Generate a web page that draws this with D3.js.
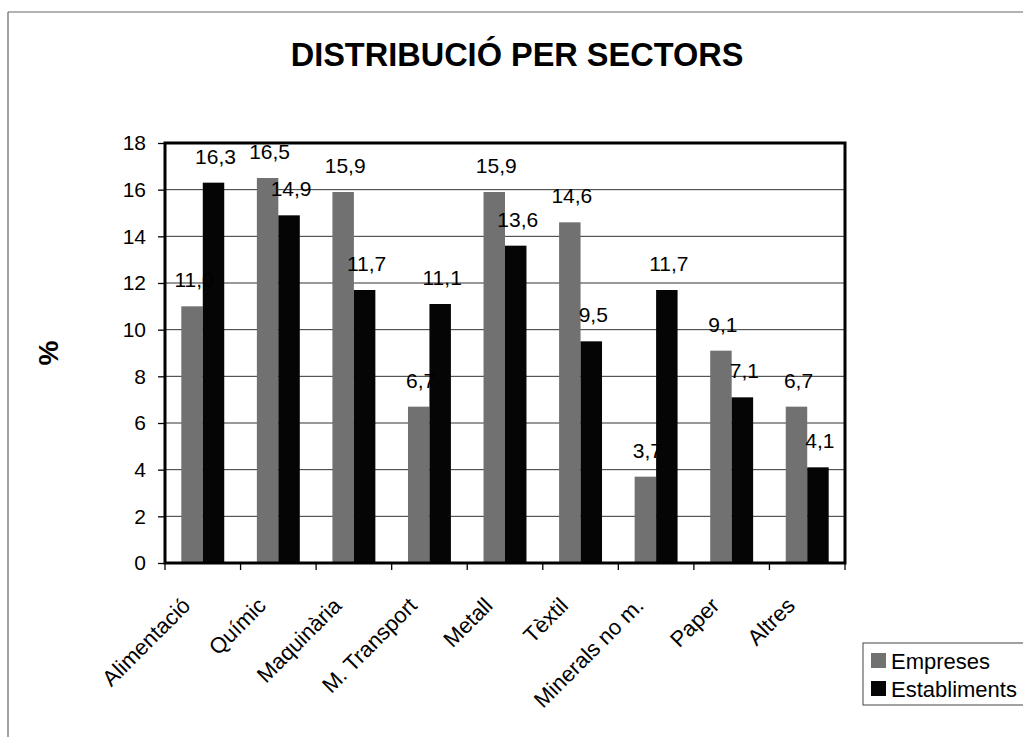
<!DOCTYPE html>
<html>
<head>
<meta charset="utf-8">
<script src="https://cdn.jsdelivr.net/npm/d3@7"></script>
<style>
  body { margin: 0; background: #fff; }
  svg { display: block; font-family: "Liberation Sans", Arial, sans-serif; }
</style>
</head>
<body>
<div id="chart"></div>
<script>
//Dades
const sectors = ['Alimentació', 'Químic', 'Maquinària', 'M. Transport', 'Metall', 'Tèxtil', 'Minerals no m.', 'Paper', 'Altres'];
const empreses = [11.0, 16.5, 15.9, 6.7, 15.9, 14.6, 3.7, 9.1, 6.7];
const establiments = [16.3, 14.9, 11.7, 11.1, 13.6, 9.5, 11.7, 7.1, 4.1];
const series = ['Empreses', 'Establiments'];
const yTicks = [0, 2, 4, 6, 8, 10, 12, 14, 16, 18];

//Colors
const COLOR_EMP = '#717171',
COLOR_EST = '#050505';

let W = 1023, H = 737;
let margin = {top: 143, right: 178, bottom: 174, left: 165},
    width = W - margin.left - margin.right,
    height = H - margin.top - margin.bottom;

let root = d3.select('#chart').append('svg')
    .attr('width', W)
    .attr('height', H);

//Marc exterior (només esquerra i dalt visibles)
root.append('line').attr('x1', 8).attr('y1', 12).attr('x2', 1023).attr('y2', 12)
    .attr('stroke', '#666').attr('stroke-width', 1.2);
root.append('line').attr('x1', 8).attr('y1', 12).attr('x2', 8).attr('y2', 737)
    .attr('stroke', '#666').attr('stroke-width', 1.2);

//Títol
root.append('text')
    .attr('x', 517).attr('y', 66)
    .attr('text-anchor', 'middle')
    .style('font-weight', 'bold')
    .style('font-size', '32.5px')
    .text('DISTRIBUCIÓ PER SECTORS');

//Etiqueta eix Y
root.append('text')
    .attr('transform', 'translate(58,353) rotate(-90)')
    .attr('text-anchor', 'middle')
    .style('font-weight', 'bold')
    .style('font-size', '28px')
    .text('%');

let svg = root.append('g')
    .attr('transform', 'translate(' + margin.left + ',' + margin.top + ')');

let x = d3.scaleBand()
    .domain(sectors)
    .range([0, width])
    .padding(0);

let xInner = d3.scaleBand()
    .domain(series)
    .range([0, x.bandwidth()])
    .paddingInner(0)
    .paddingOuter(0.76);

let y = d3.scaleLinear()
    .domain([0, 18])
    .range([height, 0]);

//Línies de quadrícula
svg.append('g')
    .selectAll('line')
    .data(yTicks.filter(function(d) { return d > 0 && d < 18; }))
    .enter()
    .append('line')
    .attr('x1', 0).attr('x2', width)
    .attr('y1', function(d) { return y(d); })
    .attr('y2', function(d) { return y(d); })
    .attr('stroke', '#333')
    .attr('stroke-width', 1);

//Eix Y
let yAxis = function(g) {
    g.call(d3.axisLeft(y).tickValues(yTicks).tickSize(7).tickPadding(12));
    g.call(function(g) { g.select('.domain').remove(); });
    g.selectAll('.tick text').style('font-size', '21px').attr('fill', '#000');
    g.selectAll('.tick line').attr('stroke', '#000').attr('stroke-width', 1.3);
};
svg.append('g').call(yAxis);

//Eix X
let xTickPos = sectors.map(function(d) { return x(d); }).concat([width]);
svg.append('g')
    .selectAll('line')
    .data(xTickPos)
    .enter()
    .append('line')
    .attr('x1', function(d) { return d; })
    .attr('x2', function(d) { return d; })
    .attr('y1', height)
    .attr('y2', height + 7)
    .attr('stroke', '#000')
    .attr('stroke-width', 1.3);

svg.append('g')
    .selectAll('text')
    .data(sectors)
    .enter()
    .append('text')
    .attr('transform', function(d) {
        return 'translate(' + (x(d) + x.bandwidth() / 2 - 11) + ',' + (height + 44) + ') rotate(-45)';
    })
    .attr('text-anchor', 'end')
    .style('font-size', '22px')
    .text(function(d) { return d; });

//Barres
let vals = {Empreses: empreses, Establiments: establiments};
let colors = {Empreses: COLOR_EMP, Establiments: COLOR_EST};

series.forEach(function(s) {
    svg.append('g')
        .selectAll('rect')
        .data(sectors)
        .enter()
        .append('rect')
        .attr('x', function(d) { return x(d) + xInner(s); })
        .attr('y', function(d, i) { return y(vals[s][i]); })
        .attr('width', xInner.bandwidth())
        .attr('height', function(d, i) { return height - y(vals[s][i]); })
        .attr('fill', colors[s]);
});

//Etiquetes de valor
series.forEach(function(s) {
    svg.append('g')
        .selectAll('text')
        .data(sectors)
        .enter()
        .append('text')
        .attr('x', function(d) { return x(d) + xInner(s) + xInner.bandwidth() / 2 + 2; })
        .attr('y', function(d, i) { return y(vals[s][i]) - 19; })
        .attr('text-anchor', 'middle')
        .style('font-size', '21px')
        .text(function(d, i) { return vals[s][i].toFixed(1).replace('.', ','); });
});

//Marc de l'àrea
svg.append('rect')
    .attr('x', 0).attr('y', 0)
    .attr('width', width).attr('height', height)
    .attr('fill', 'none')
    .attr('stroke', '#000')
    .attr('stroke-width', 3);

//Llegenda
let legend = root.append('g').attr('transform', 'translate(863,643)');
legend.append('rect')
    .attr('x', 0).attr('y', 0)
    .attr('width', 165).attr('height', 62)
    .attr('fill', '#fff')
    .attr('stroke', '#444')
    .attr('stroke-width', 1);

series.forEach(function(s, i) {
    legend.append('rect')
        .attr('x', 8).attr('y', 10 + i * 28)
        .attr('width', 15).attr('height', 15)
        .attr('fill', colors[s]);
    legend.append('text')
        .attr('x', 28).attr('y', 18 + i * 28)
        .attr('dy', '0.35em')
        .style('font-size', '22px')
        .text(s);
});
</script>
</body>
</html>
